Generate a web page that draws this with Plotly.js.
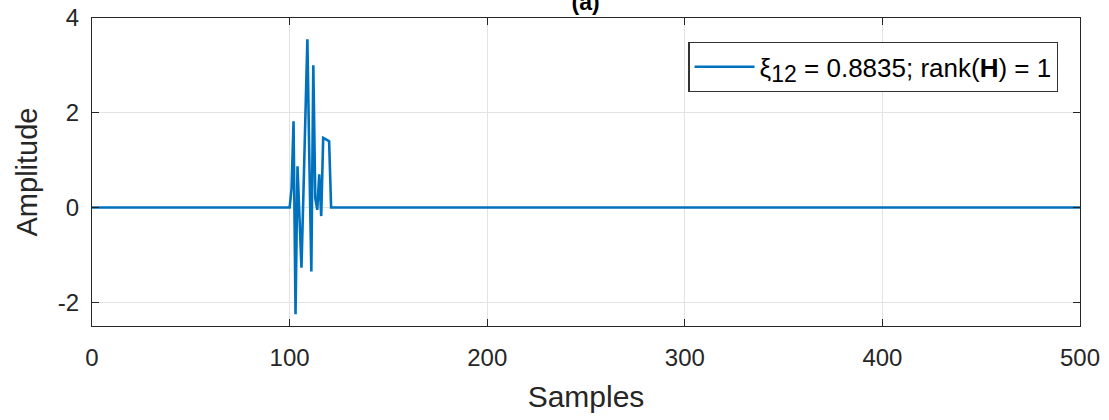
<!DOCTYPE html>
<html><head><meta charset="utf-8">
<script src="https://cdn.plot.ly/plotly-3.0.1.min.js"></script>
<style>html,body{margin:0;padding:0;background:#fff}#chart{width:1109px;height:420px}</style>
</head><body><div id="chart"></div>
<script>
// Non-zero portion of the signal (sample index -> amplitude); all other samples are 0
const burstSamples = [100, 101, 102, 103, 104, 105, 106, 107, 108, 109, 110, 111, 112, 113, 114, 115, 116, 117, 118, 119, 120, 121];
const burstValues  = [0, 0.4, 1.82, -2.25, 0.87, -0.2, -1.27, 0.3, 2.0, 3.55, 1.0, -1.35, 3.0, 0.2, -0.05, 0.7, -0.18, 1.47, 1.45, 1.42, 1.4, 0];
const nSamples = 500;
const xTicks = [0, 100, 200, 300, 400, 500];
const yTicks = [-2, 0, 2, 4];
const seriesName = 'ξ<sub><span style="font-size:23px">12</span></sub> = 0.8835; rank(<b>H</b>) = 1';

const x = [], y = [];
for (let n = 0; n <= nSamples; n++) {
  x.push(n);
  const i = burstSamples.indexOf(n);
  y.push(i >= 0 ? burstValues[i] : 0);
}

const font = 'Liberation Sans, Arial, Helvetica, sans-serif';
const axCol = '#262626';
const trace = {x: x, y: y, type: 'scatter', mode: 'lines', name: seriesName,
  line: {color: '#0072BD', width: 2.6}, showlegend: true};

const layout = {
  width: 1109, height: 420,
  margin: {l: 92, r: 29, t: 18, b: 94},
  paper_bgcolor: '#fff', plot_bgcolor: '#fff',
  font: {family: font, color: axCol},
  title: {text: '<b>(a)</b>', x: 0.528, xanchor: 'center', y: 1, yref: 'paper', yanchor: 'bottom',
    pad: {b: 8, t: 0, l: 0, r: 0},
    font: {size: 23, color: '#000', family: font}},
  xaxis: {range: [0, 500], tickvals: xTicks, ticktext: xTicks.map(String),
    showgrid: true, gridcolor: '#e3e3e3', gridwidth: 1, zeroline: false,
    showline: true, linecolor: axCol, linewidth: 1, mirror: 'ticks',
    ticks: 'inside', ticklen: 7, tickcolor: axCol, ticklabelstandoff: 10,
    tickfont: {size: 24, color: axCol, family: font},
    title: {text: 'Samples', font: {size: 30, color: axCol, family: font}, standoff: 16}},
  yaxis: {range: [-2.5, 4], tickvals: yTicks, ticktext: yTicks.map(String),
    showgrid: true, gridcolor: '#e3e3e3', gridwidth: 1, zeroline: false,
    showline: true, linecolor: axCol, linewidth: 1, mirror: 'ticks',
    ticks: 'inside', ticklen: 7, tickcolor: axCol, ticklabelstandoff: 7,
    tickfont: {size: 24, color: axCol, family: font},
    title: {text: 'Amplitude', font: {size: 29, color: axCol, family: font}, standoff: 11}},
  legend: {x: 0.978, xanchor: 'right', y: 0.922, yanchor: 'top',
    bgcolor: '#fff', bordercolor: '#333', borderwidth: 1.3, itemwidth: 60,
    font: {size: 26, color: '#000', family: font}},
  showlegend: true
};
Plotly.newPlot('chart', [trace], layout, {displayModeBar: false, staticPlot: true});
</script></body></html>
